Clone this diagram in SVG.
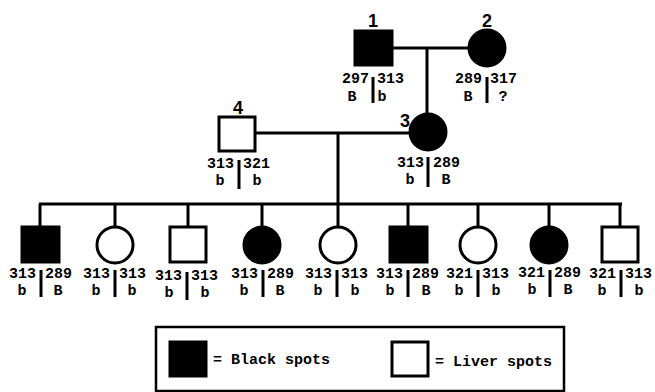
<svg xmlns="http://www.w3.org/2000/svg" width="655" height="392" viewBox="0 0 655 392">
<style>
.ln{stroke:#000;stroke-width:3;fill:none}
.bar{stroke:#000;stroke-width:3}
.aff{fill:#000;stroke:#000;stroke-width:3}
.un{fill:#fff;stroke:#000;stroke-width:3}
.g{font-family:"Liberation Mono","Courier New",monospace;font-size:15px;font-weight:bold;fill:#000}
.gl{text-anchor:end}
.gc{text-anchor:middle}
.id{font-family:"Liberation Sans",Arial,sans-serif;font-size:18px;font-weight:bold;text-anchor:middle;fill:#000}
.lg{font-family:"Liberation Mono","Courier New",monospace;font-size:15px;font-weight:bold;fill:#000}
</style>
<rect width="655" height="392" fill="#fff"/>
<g id="connectors">
<line class="ln" x1="392" y1="48" x2="468" y2="48"/>
<line class="ln" x1="427" y1="48" x2="427" y2="114"/>
<line class="ln" x1="255" y1="133" x2="410" y2="133"/>
<line class="ln" x1="338" y1="133" x2="338" y2="204"/>
<line class="ln" x1="39" y1="204" x2="622" y2="204"/>
<line class="ln" x1="40" y1="204" x2="40" y2="227"/>
<line class="ln" x1="115" y1="204" x2="115" y2="227"/>
<line class="ln" x1="188" y1="204" x2="188" y2="227"/>
<line class="ln" x1="262" y1="204" x2="262" y2="227"/>
<line class="ln" x1="338" y1="204" x2="338" y2="227"/>
<line class="ln" x1="408" y1="204" x2="408" y2="227"/>
<line class="ln" x1="478" y1="204" x2="478" y2="227"/>
<line class="ln" x1="549" y1="204" x2="549" y2="227"/>
<line class="ln" x1="620" y1="204" x2="620" y2="227"/>
</g>
<g id="node1">
<text class="id" x="373" y="27">1</text>
<rect class="aff" x="355" y="31" width="37" height="34"/>
<text class="g gl" x="369" y="83">297</text><line class="bar" x1="373" y1="77" x2="373" y2="103"/><text class="g" x="377" y="83">313</text>
<text class="g gc" x="352" y="101">B</text><text class="g gc" x="382" y="101">b</text>
</g>
<g id="node2">
<text class="id" x="487" y="27">2</text>
<circle class="aff" cx="487" cy="48" r="18"/>
<text class="g gl" x="482" y="83">289</text><line class="bar" x1="487" y1="77" x2="487" y2="103"/><text class="g" x="490" y="83">317</text>
<text class="g gc" x="468" y="101">B</text><text class="g gc" x="503" y="101">?</text>
</g>
<g id="node3">
<text class="id" x="405" y="127">3</text>
<circle class="aff" cx="428" cy="132" r="18"/>
<text class="g gl" x="424" y="167">313</text><line class="bar" x1="428" y1="157" x2="428" y2="187"/><text class="g" x="433" y="167">289</text>
<text class="g gc" x="410" y="184">b</text><text class="g gc" x="446" y="184">B</text>
</g>
<g id="node4">
<text class="id" x="238" y="114">4</text>
<rect class="un" x="219" y="117" width="36" height="34"/>
<text class="g gl" x="234" y="168">313</text><line class="bar" x1="239" y1="160" x2="239" y2="189"/><text class="g" x="243" y="168">321</text>
<text class="g gc" x="220" y="185">b</text><text class="g gc" x="257" y="185">b</text>
</g>
<g id="child1">
<rect class="aff" x="22" y="227" width="37" height="35"/>
<text class="g gl" x="36" y="278">313</text><line class="bar" x1="41" y1="270" x2="41" y2="297"/><text class="g" x="45" y="278">289</text>
<text class="g gc" x="22" y="295">b</text><text class="g gc" x="58" y="295">B</text>
</g>
<g id="child2">
<circle class="un" cx="115" cy="245" r="18"/>
<text class="g gl" x="110" y="278">313</text><line class="bar" x1="115" y1="270" x2="115" y2="297"/><text class="g" x="119" y="278">313</text>
<text class="g gc" x="96" y="295">b</text><text class="g gc" x="132" y="295">b</text>
</g>
<g id="child3">
<rect class="un" x="170" y="227" width="36" height="35"/>
<text class="g gl" x="182" y="280">313</text><line class="bar" x1="187" y1="272" x2="187" y2="300"/><text class="g" x="191" y="280">313</text>
<text class="g gc" x="169" y="297">b</text><text class="g gc" x="205" y="297">b</text>
</g>
<g id="child4">
<circle class="aff" cx="262" cy="245" r="18"/>
<text class="g gl" x="258" y="278">313</text><line class="bar" x1="263" y1="270" x2="263" y2="297"/><text class="g" x="267" y="278">289</text>
<text class="g gc" x="244" y="295">b</text><text class="g gc" x="280" y="295">B</text>
</g>
<g id="child5">
<circle class="un" cx="338" cy="245" r="18"/>
<text class="g gl" x="332" y="278">313</text><line class="bar" x1="337" y1="270" x2="337" y2="297"/><text class="g" x="341" y="278">313</text>
<text class="g gc" x="318" y="295">b</text><text class="g gc" x="355" y="295">b</text>
</g>
<g id="child6">
<rect class="aff" x="390" y="227" width="37" height="35"/>
<text class="g gl" x="403" y="278">313</text><line class="bar" x1="408" y1="270" x2="408" y2="297"/><text class="g" x="412" y="278">289</text>
<text class="g gc" x="390" y="295">b</text><text class="g gc" x="426" y="295">B</text>
</g>
<g id="child7">
<circle class="un" cx="478" cy="245" r="18"/>
<text class="g gl" x="473" y="278">321</text><line class="bar" x1="478" y1="270" x2="478" y2="297"/><text class="g" x="482" y="278">313</text>
<text class="g gc" x="459" y="295">b</text><text class="g gc" x="496" y="295">b</text>
</g>
<g id="child8">
<circle class="aff" cx="549" cy="245" r="18"/>
<text class="g gl" x="545" y="277">321</text><line class="bar" x1="550" y1="270" x2="550" y2="297"/><text class="g" x="554" y="277">289</text>
<text class="g gc" x="532" y="294">b</text><text class="g gc" x="568" y="294">B</text>
</g>
<g id="child9">
<rect class="un" x="602" y="227" width="36" height="35"/>
<text class="g gl" x="616" y="278">321</text><line class="bar" x1="621" y1="270" x2="621" y2="297"/><text class="g" x="625" y="278">313</text>
<text class="g gc" x="602" y="295">b</text><text class="g gc" x="639" y="295">b</text>
</g>
<g id="legend">
<rect x="156" y="327" width="408" height="64" fill="#fff" stroke="#000" stroke-width="2.5"/>
<rect class="aff" x="170" y="342" width="36" height="34"/>
<text class="lg" x="213" y="364">= Black spots</text>
<rect class="un" x="392" y="342" width="36" height="34"/>
<text class="lg" x="435" y="366">= Liver spots</text>
</g>
</svg>
